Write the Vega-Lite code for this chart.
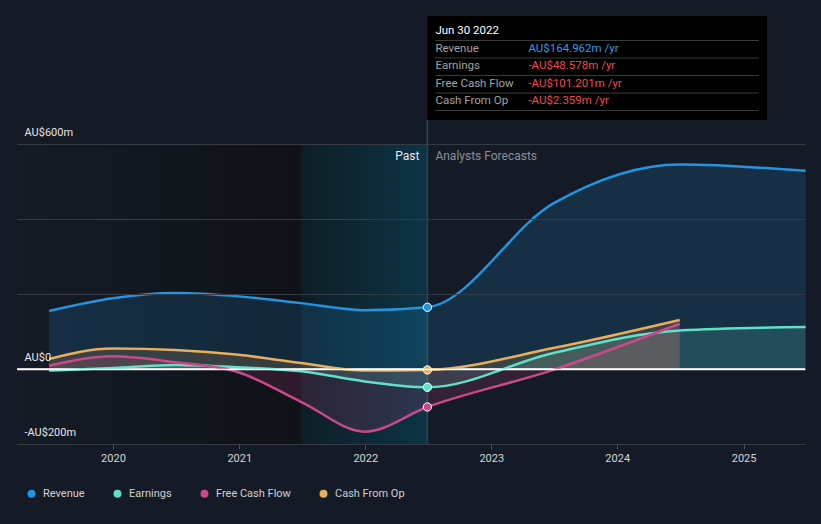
{
  "$schema": "https://vega.github.io/schema/vega-lite/v6.json",
  "width": 788,
  "height": 444,
  "autosize": "none",
  "padding": {"left": 17, "top": 0, "right": 16, "bottom": 80},
  "background": "#151b26",
  "config": {
    "view": {"stroke": null},
    "font": "Roboto",
    "legend": {"padding": 0}
  },
  "datasets": {
    "one": [{}],
    "series": [
      {"series": "Revenue", "date": "2019-06-30", "value": 155},
      {"series": "Revenue", "date": "2019-12-31", "value": 189},
      {"series": "Revenue", "date": "2020-06-30", "value": 203},
      {"series": "Revenue", "date": "2020-12-31", "value": 194},
      {"series": "Revenue", "date": "2021-06-30", "value": 176},
      {"series": "Revenue", "date": "2021-12-31", "value": 157},
      {"series": "Revenue", "date": "2022-06-30", "value": 164.962},
      {"series": "Revenue", "date": "2023-06-30", "value": 442},
      {"series": "Revenue", "date": "2024-06-30", "value": 546},
      {"series": "Revenue", "date": "2025-06-30", "value": 529},
      {"series": "Earnings", "date": "2019-06-30", "value": -4},
      {"series": "Earnings", "date": "2019-12-31", "value": 3},
      {"series": "Earnings", "date": "2020-06-30", "value": 11},
      {"series": "Earnings", "date": "2020-12-31", "value": 5},
      {"series": "Earnings", "date": "2021-06-30", "value": -6},
      {"series": "Earnings", "date": "2021-12-31", "value": -33},
      {"series": "Earnings", "date": "2022-06-30", "value": -48.578},
      {"series": "Earnings", "date": "2023-06-30", "value": 43},
      {"series": "Earnings", "date": "2024-06-30", "value": 103},
      {"series": "Earnings", "date": "2025-06-30", "value": 112},
      {"series": "Free Cash Flow", "date": "2019-06-30", "value": 9},
      {"series": "Free Cash Flow", "date": "2019-12-31", "value": 34},
      {"series": "Free Cash Flow", "date": "2020-06-30", "value": 18},
      {"series": "Free Cash Flow", "date": "2020-12-31", "value": -9},
      {"series": "Free Cash Flow", "date": "2021-06-30", "value": -88},
      {"series": "Free Cash Flow", "date": "2021-12-31", "value": -167},
      {"series": "Free Cash Flow", "date": "2022-06-30", "value": -101.201},
      {"series": "Free Cash Flow", "date": "2023-06-30", "value": -2},
      {"series": "Free Cash Flow", "date": "2024-06-30", "value": 121},
      {"series": "Cash From Op", "date": "2019-06-30", "value": 27},
      {"series": "Cash From Op", "date": "2019-12-31", "value": 55},
      {"series": "Cash From Op", "date": "2020-06-30", "value": 51},
      {"series": "Cash From Op", "date": "2020-12-31", "value": 38},
      {"series": "Cash From Op", "date": "2021-06-30", "value": 16},
      {"series": "Cash From Op", "date": "2021-12-31", "value": -4},
      {"series": "Cash From Op", "date": "2022-06-30", "value": -2.359},
      {"series": "Cash From Op", "date": "2023-06-30", "value": 56},
      {"series": "Cash From Op", "date": "2024-06-30", "value": 131}
    ],
    "tip": [
      {"key": "header", "label": "Jun 30 2022", "value": ""},
      {"key": "Revenue", "label": "Revenue", "value": "AU$164.962m /yr"},
      {"key": "Earnings", "label": "Earnings", "value": "-AU$48.578m /yr"},
      {"key": "Free Cash Flow", "label": "Free Cash Flow", "value": "-AU$101.201m /yr"},
      {"key": "Cash From Op", "label": "Cash From Op", "value": "-AU$2.359m /yr"}
    ],
    "seps": [{"k": "s1"}, {"k": "s2"}, {"k": "s3"}, {"k": "s4"}, {"k": "s5"}]
  },
  "resolve": {"scale": {"y": "independent"}},
  "layer": [
    {
      "data": {"name": "series"},
      "layer": [
        {
          "data": {"name": "one"},
          "mark": {"type": "rect", "color": {"gradient": "linear", "x1": 0, "x2": 1, "y1": 0, "y2": 0, "stops": [{"offset": 0, "color": "#151b26"}, {"offset": 1, "color": "#0f1217"}]}},
          "encoding": {
            "x": {"datum": {"year": 2019, "month": 3, "date": 29, "utc": true}, "type": "temporal",
              "scale": {"type": "utc", "domain": [{"year": 2019, "month": 3, "date": 29, "utc": true}, {"year": 2025, "month": 6, "date": 28, "utc": true}]},
              "axis": {"title": null, "orient": "bottom", "format": "%Y", "tickCount": {"interval": "year", "step": 1}, "grid": false, "domainColor": "#4b505a", "tickColor": "#4b505a", "tickSize": 5, "labelColor": "#d6d6d6", "labelFontSize": 11, "labelPadding": 3, "labelFont": "Roboto"}},
            "x2": {"datum": {"year": 2021, "month": 6, "date": 30, "utc": true}},
            "y": {"datum": 600, "type": "quantitative",
              "scale": {"domain": [-200, 985], "nice": false, "zero": false},
              "axis": {"title": null, "zindex": 1, "values": [-200, 0, 200, 400, 600], "domain": false, "ticks": false, "tickSize": 0, "grid": true,
                "gridColor": {"condition": {"test": "datum.value === 0", "value": "#ffffff"}, "value": "#363b45"},
                "gridWidth": {"condition": {"test": "datum.value === 0", "value": 1.5}, "value": 1},
                "labelExpr": "datum.value == 600 ? 'AU$600m' : datum.value == 0 ? 'AU$0' : datum.value == -200 ? '-AU$200m' : ''",
                "labelAlign": "left", "labelPadding": -7, "labelBaseline": "middle", "labelOffset": -12, "labelColor": "#e6e6e6", "labelFontSize": 11, "labelFont": "Roboto", "labelOverlap": false, "labelBound": false}},
            "y2": {"datum": -200}
          }
        },
        {
          "data": {"name": "one"},
          "mark": {"type": "rect", "color": {"gradient": "linear", "x1": 0, "x2": 1, "y1": 0, "y2": 0, "stops": [{"offset": 0, "color": "#0e1e27"}, {"offset": 1, "color": "#0c3445"}]}},
          "encoding": {
            "x": {"datum": {"year": 2021, "month": 6, "date": 30, "utc": true}, "type": "temporal"},
            "x2": {"datum": {"year": 2022, "month": 6, "date": 30, "utc": true}},
            "y": {"datum": 600, "type": "quantitative"},
            "y2": {"datum": -200}
          }
        },
        {
          "data": {"name": "one"},
          "mark": {"type": "rule", "color": "#1d4b5b", "strokeWidth": 1.5},
          "encoding": {
            "x": {"datum": {"year": 2022, "month": 6, "date": 30, "utc": true}, "type": "temporal"},
            "y": {"datum": 665, "type": "quantitative"},
            "y2": {"datum": -200}
          }
        },
        {
          "mark": {"type": "area", "interpolate": "monotone", "opacity": 0.17},
          "encoding": {
            "x": {"field": "date", "type": "temporal"},
            "y": {"field": "value", "type": "quantitative"},
            "y2": {"datum": 0},
            "color": {"field": "series", "type": "nominal",
              "scale": {"domain": ["Revenue", "Earnings", "Free Cash Flow", "Cash From Op"], "range": ["#2394df", "#5ee0c9", "#c9498a", "#e9ae5b"]},
              "legend": {"title": null, "orient": "none", "legendX": 9, "legendY": 488, "direction": "horizontal", "columns": 4, "columnPadding": 27,
                "symbolType": "circle", "symbolSize": 64, "symbolStrokeWidth": 0, "symbolOpacity": 1,
                "labelColor": "#d0d0d0", "labelFontSize": 11, "labelFont": "Roboto", "labelOffset": 6,
                "encode": {"symbols": {"update": {"fill": {"field": "value", "scale": "color"}, "stroke": {"value": "transparent"}, "opacity": {"value": 1}}}}}}
          }
        },
        {
          "data": {"name": "one"},
          "mark": {"type": "rule", "color": "#ffffff", "strokeWidth": 1.5},
          "encoding": {"y": {"datum": 0, "type": "quantitative"}}
        },
        {
          "mark": {"type": "line", "interpolate": "monotone", "strokeWidth": 2.5},
          "encoding": {
            "x": {"field": "date", "type": "temporal"},
            "y": {"field": "value", "type": "quantitative"},
            "color": {"field": "series", "type": "nominal"}
          }
        },
        {
          "transform": [{"filter": "utcyear(datum.date) == 2022 && utcmonth(datum.date) == 5 && utcdate(datum.date) == 30"}],
          "mark": {"type": "point", "filled": true, "size": 70, "opacity": 1, "stroke": "#ffffff", "strokeWidth": 1},
          "encoding": {
            "x": {"field": "date", "type": "temporal"},
            "y": {"field": "value", "type": "quantitative"},
            "fill": {"field": "series", "type": "nominal", "scale": {"domain": ["Revenue", "Earnings", "Free Cash Flow", "Cash From Op"], "range": ["#2394df", "#5ee0c9", "#c9498a", "#e9ae5b"]}, "legend": null}
          }
        },
        {
          "data": {"name": "one"},
          "mark": {"type": "text", "text": "Past", "align": "right", "baseline": "middle", "dx": -8, "color": "#e8e8e8", "fontSize": 12, "font": "Roboto"},
          "encoding": {
            "x": {"datum": {"year": 2022, "month": 6, "date": 30, "utc": true}, "type": "temporal"},
            "y": {"datum": 569, "type": "quantitative"}
          }
        },
        {
          "data": {"name": "one"},
          "mark": {"type": "text", "text": "Analysts Forecasts", "align": "left", "baseline": "middle", "dx": 8, "color": "#8c9099", "fontSize": 12, "font": "Roboto"},
          "encoding": {
            "x": {"datum": {"year": 2022, "month": 6, "date": 30, "utc": true}, "type": "temporal"},
            "y": {"datum": 569, "type": "quantitative"}
          }
        },
        {
          "data": {"name": "one"},
          "mark": {"type": "rect", "color": "#000000"},
          "encoding": {
            "x": {"datum": {"year": 2022, "month": 6, "date": 30, "utc": true}, "type": "temporal"},
            "x2": {"datum": {"year": 2025, "month": 3, "date": 10, "utc": true}},
            "y": {"datum": 942, "type": "quantitative"},
            "y2": {"datum": 665}
          }
        }
      ]
    },
    {
      "data": {"name": "seps"},
      "mark": {"type": "rule", "color": "#3b3b3b", "strokeWidth": 1},
      "encoding": {
        "x": {"datum": {"year": 2022, "month": 7, "date": 23, "utc": true}, "type": "temporal"},
        "x2": {"datum": {"year": 2025, "month": 2, "date": 14, "utc": true}},
        "y": {"field": "k", "type": "ordinal", "scale": {"type": "point", "domain": ["s1", "s2", "s3", "s4", "s5"], "range": [40.5, 110.5], "padding": 0}, "axis": null}
      }
    },
    {
      "data": {"name": "tip"},
      "layer": [
        {
          "mark": {"type": "text", "align": "left", "baseline": "middle", "dx": 8, "fontSize": 11.5, "font": "Roboto"},
          "encoding": {
            "x": {"datum": {"year": 2022, "month": 6, "date": 30, "utc": true}, "type": "temporal"},
            "y": {"field": "key", "type": "ordinal", "scale": {"domain": ["header", "Revenue", "Earnings", "Free Cash Flow", "Cash From Op"], "range": [31, 101], "padding": 0}, "axis": null},
            "text": {"field": "label"},
            "color": {"condition": {"test": "datum.key === 'header'", "value": "#ffffff"}, "value": "#a3a3a3"}
          }
        },
        {
          "mark": {"type": "text", "align": "left", "baseline": "middle", "dx": 101, "fontSize": 11.5, "font": "Roboto"},
          "encoding": {
            "x": {"datum": {"year": 2022, "month": 6, "date": 30, "utc": true}, "type": "temporal"},
            "y": {"field": "key", "type": "ordinal", "axis": null},
            "text": {"field": "value"},
            "color": {"condition": {"test": "datum.key === 'Revenue'", "value": "#2d9ce6"}, "value": "#f04a4a"}
          }
        }
      ]
    }
  ]
}
